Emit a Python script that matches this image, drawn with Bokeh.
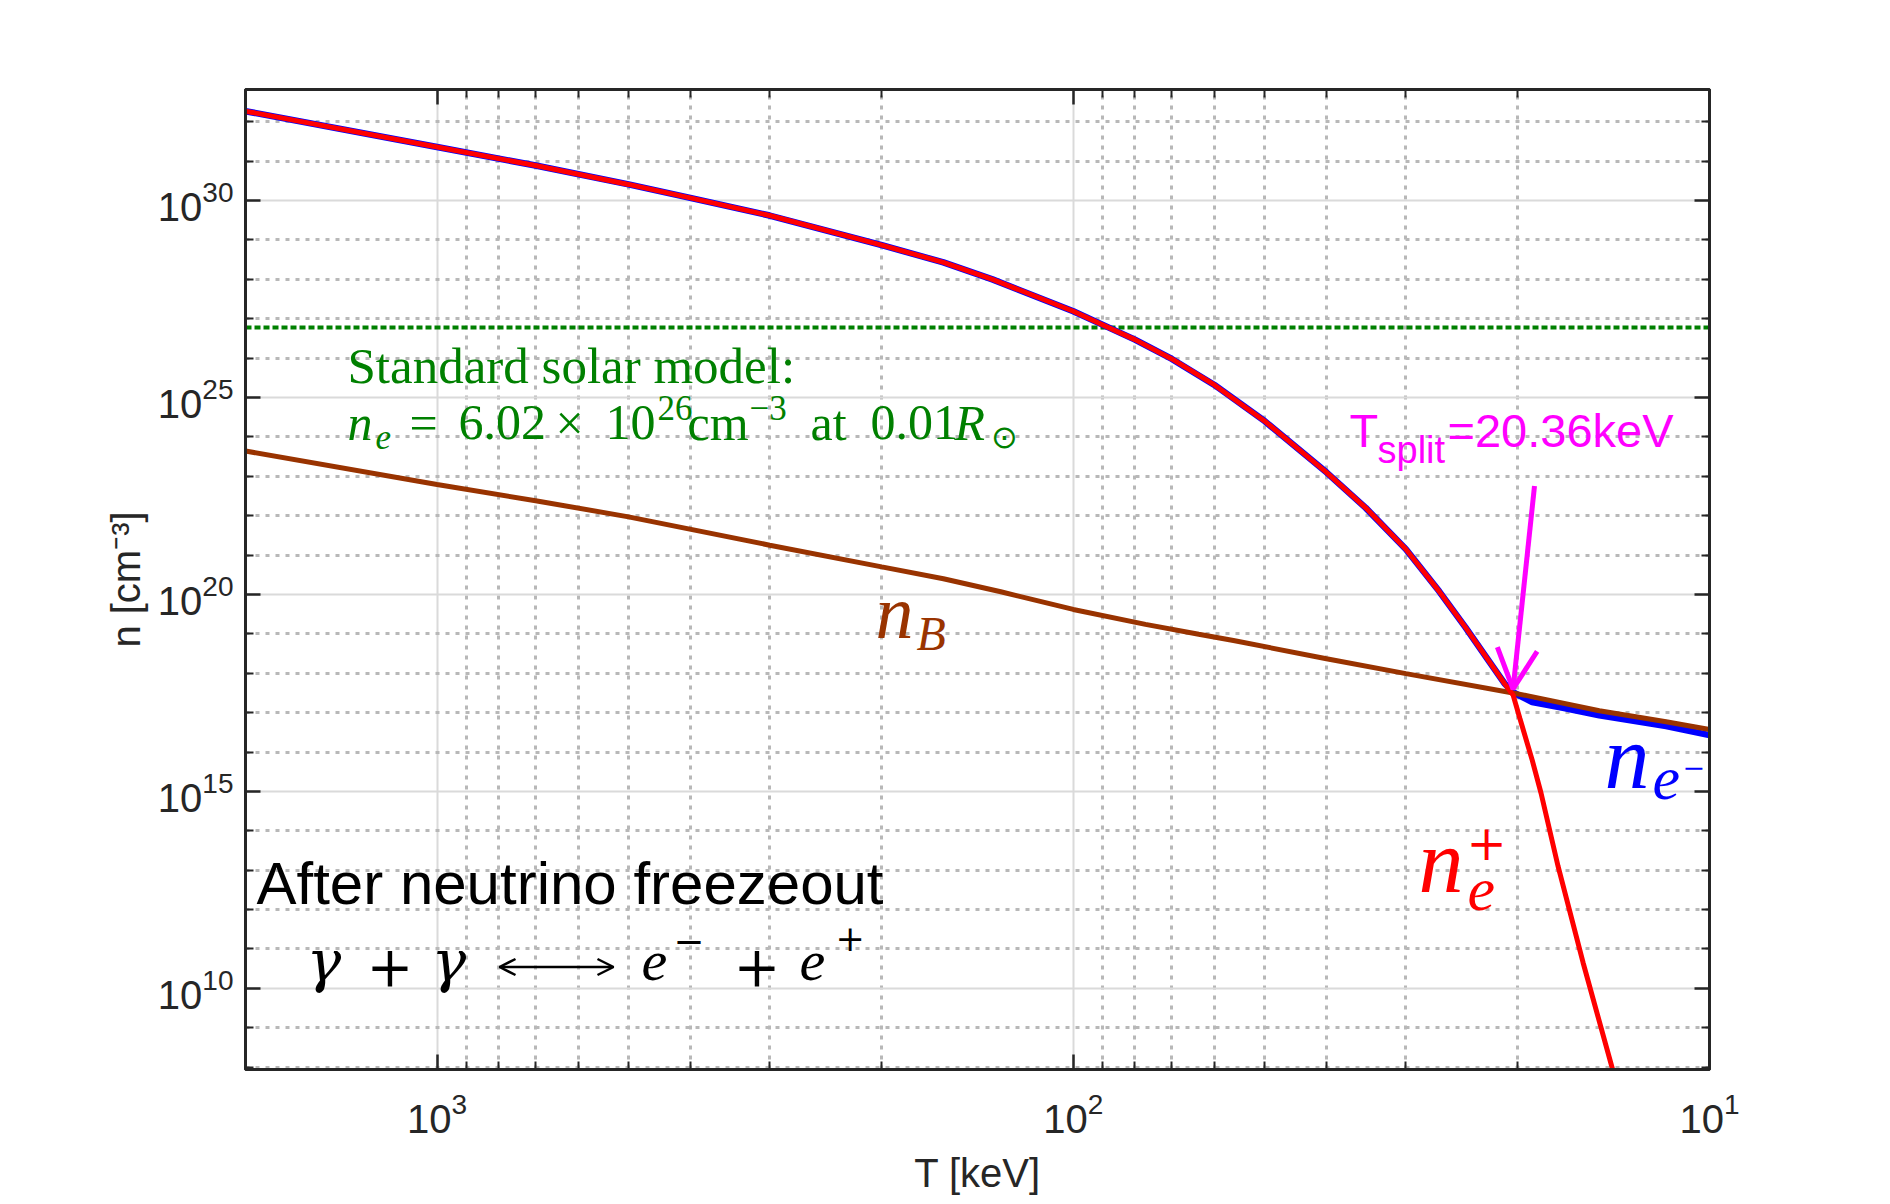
import numpy as np
from bokeh.plotting import figure
from bokeh.models import (Range1d, FixedTicker, LogAxis, LogTickFormatter, Span, Label, Arrow,
                          OpenHead, CustomJSTickFormatter)
from bokeh.embed import file_html
from bokeh.resources import INLINE

# ---------------- data ----------------
# n_e+ and n_e- coincide above the split temperature
T_pair = [2000, 1000, 700, 500, 400, 300, 200, 160, 134, 100, 90, 80, 70, 60, 50, 40, 34.7, 30,
          26.6, 24.2, 22.2, 21.0]
n_pair = [1.86e32, 2.29e31, 7.76e30, 2.57e30, 1.17e30, 4.17e29, 7.41e28, 2.69e28, 1.0e28, 1.55e27,
          7.08e26, 2.95e26, 9.55e25, 2.09e25, 2.51e24, 1.26e23, 1.58e22, 1.41e21,
          1.20e20, 1.48e19, 2.0e18, 5.5e17]
# positron density below the split
T_pos_tail = [20.36, 19.86, 19.0, 18.4, 17.3, 15.8, 14.2, 13.9]
n_pos_tail = [2.82e17, 7.08e16, 6.31e15, 9.12e14, 1.26e13, 4.47e10, 8.71e7, 2.5e7]
# electron density below the split
T_ele_tail = [20.36, 19.9, 19.0, 17.0, 14.9, 11.7, 10]
n_ele_tail = [3.30e17, 2.69e17, 1.86e17, 1.32e17, 8.51e16, 4.57e16, 2.69e16]
# baryon density
T_B = [2000, 1000, 700, 500, 300, 200, 160, 130, 100, 77, 63.5, 56, 40, 30, 20.36, 19.2, 14.9, 11.7, 10]
n_B = [4.37e23, 6.17e22, 2.40e22, 9.33e21, 1.78e21, 5.01e20, 2.51e20, 1.17e20, 4.17e19, 1.74e19,
       9.77e18, 6.76e18, 2.34e18, 9.77e17, 3.16e17, 2.63e17, 1.12e17, 5.89e16, 3.72e16]
n_solar = 6.02e26
T_split = 20.36

x_major = [10, 100, 1000]
x_minor = [m * d for d in (10, 100) for m in range(2, 10)] + [2000]
y_major = [1e10, 1e15, 1e20, 1e25, 1e30]
y_minor = [10.0 ** k for k in range(8, 33) if k % 5]

X0, X1 = 2000, 10
Y0, Y1 = 10 ** 7.94, 10 ** 32.82

# ---------------- figure ----------------
p = figure(x_axis_type="log", y_axis_type="log",
           x_range=Range1d(X0, X1), y_range=Range1d(Y0, Y1),
           frame_width=1464, frame_height=980,
           min_border_left=245, min_border_right=150, min_border_top=89, min_border_bottom=128,
           output_backend="svg", toolbar_location=None,
           background_fill_color="white", border_fill_color="white")
p.outline_line_color = "#262626"
p.outline_line_width = 3

xt = FixedTicker(ticks=x_major, minor_ticks=x_minor)
yt = FixedTicker(ticks=y_major, minor_ticks=y_minor)
p.xaxis[0].ticker = xt
p.yaxis[0].ticker = yt
p.xaxis[0].formatter = LogTickFormatter()
p.yaxis[0].formatter = LogTickFormatter()

AX = "#262626"
for ax in (p.xaxis[0], p.yaxis[0]):
    ax.major_tick_in = 15
    ax.major_tick_out = 0
    ax.minor_tick_in = 8
    ax.minor_tick_out = 0
    ax.major_tick_line_color = AX
    ax.minor_tick_line_color = AX
    ax.major_tick_line_width = 2.5
    ax.minor_tick_line_width = 2
    ax.axis_line_color = AX
    ax.axis_line_width = 3
    ax.major_label_text_font = "Liberation Sans"
    ax.major_label_text_font_size = "40px"
    ax.major_label_text_color = AX
    ax.axis_label_text_font = "Liberation Sans"
    ax.axis_label_text_font_size = "40px"
    ax.axis_label_text_font_style = "normal"
    ax.axis_label_text_color = AX

p.xaxis[0].axis_label = "T [keV]"
p.xaxis[0].major_label_standoff = 22
p.xaxis[0].axis_label_standoff = 15
p.yaxis[0].axis_label = "n [cm⁻³]"
p.yaxis[0].major_label_standoff = 12
p.yaxis[0].axis_label_standoff = 7

blank = CustomJSTickFormatter(code="return ''")
for ticker, side in ((yt, "right"), (xt, "above")):
    ax = LogAxis(ticker=ticker, formatter=blank, major_label_standoff=0,
                 major_tick_in=15, major_tick_out=0, minor_tick_in=8, minor_tick_out=0,
                 major_tick_line_color=AX, minor_tick_line_color=AX,
                 major_tick_line_width=2.5, minor_tick_line_width=2,
                 axis_line_color=AX, axis_line_width=3)
    p.add_layout(ax, side)

for g in (p.xgrid[0], p.ygrid[0]):
    g.grid_line_color = "#dadada"
    g.grid_line_width = 2
    g.minor_grid_line_color = "#b8b8b8"
    g.minor_grid_line_width = 3
    g.minor_grid_line_dash = "4 6"

# solar-model reference density
p.add_layout(Span(location=n_solar, dimension="width", line_color="#008000",
                  line_width=4, line_dash="6 3", level="underlay"))

# curves
p.line(T_pair + T_ele_tail, n_pair + n_ele_tail, line_color="#0000ff", line_width=6.5)
p.line(T_B, n_B, line_color="#993300", line_width=5)
p.line(T_pair + T_pos_tail, n_pair + n_pos_tail, line_color="#ff0000", line_width=5)

# ---------------- annotations ----------------
LX0, LX1 = np.log10(X0), np.log10(X1)
LY0, LY1 = np.log10(Y0), np.log10(Y1)


def at(px, py):
    fx = (px - 246) / 1464.0
    fy = (py - 90.5) / 980.0
    return 10 ** (LX0 + fx * (LX1 - LX0)), 10 ** (LY1 - fy * (LY1 - LY0))


def lab(px, py, text, size, color, font="Liberation Serif", style="normal"):
    x, y = at(px, py - 0.35 * size)
    p.add_layout(Label(x=x, y=y, text=text, text_font=font, text_font_size=f"{size}px",
                       text_color=color, text_font_style=style,
                       text_baseline="alphabetic", text_align="left"))


G = "#008000"
lab(348, 385, "Standard solar model:", 51, G)
lab(348, 441, "n", 50, G, style="italic")
lab(376, 450, "e", 35, G, style="italic")
lab(410, 441, "=", 50, G)
lab(459, 441, "6.02", 50, G)
lab(556, 441, "×", 50, G)
lab(606, 441, "10", 50, G)
lab(658, 421, "26", 35, G)
lab(688, 441, "cm", 50, G)
lab(750, 421, "−3", 35, G)
lab(811, 441, "at", 50, G)
lab(871, 441, "0.01", 50, G)
lab(955, 441, "R", 50, G, style="italic")
lab(991, 449, "⊙", 32, G)

BR = "#993300"
lab(876, 640, "n", 76, BR, style="italic")
lab(917, 651, "B", 48, BR, style="italic")

BL = "#0000ff"
lab(1605, 790, "n", 90, BL, style="italic")
lab(1653, 802, "e", 62, BL, style="italic")
lab(1683, 777, "−", 27, BL, font="DejaVu Serif")

RD = "#ff0000"
lab(1419, 894, "n", 90, RD, style="italic")
lab(1468, 913, "e", 62, RD, style="italic")
lab(1467, 860, "+", 48, RD, font="DejaVu Serif")

MG = "#ff00ff"
lab(1350, 448, "T", 47, MG, font="Liberation Sans")
lab(1378, 464, "split", 38, MG, font="Liberation Sans")
lab(1448, 448, "=20.36keV", 47, MG, font="Liberation Sans")

tx, ty = at(1535, 487)
hx, hy = at(1512, 690)
p.add_layout(Arrow(x_start=tx, y_start=ty, x_end=T_split, y_end=hy,
                   line_color=MG, line_width=5,
                   end=OpenHead(size=40, line_color=MG, line_width=5)))

K = "#000000"
lab(257, 905, "After neutrino freezeout", 60, K, font="Liberation Sans")
lab(307, 982, "γ", 58, K, font="DejaVu Serif", style="italic")
lab(367, 986, "+", 56, K, font="DejaVu Serif")
lab(432, 982, "γ", 58, K, font="DejaVu Serif", style="italic")
ax0, ay0 = at(500, 968)
ax1, ay1 = at(614, 968)
p.add_layout(Arrow(x_start=ax0, y_start=ay0, x_end=ax1, y_end=ay1, line_color=K, line_width=2.5,
                   start=OpenHead(size=16, line_color=K, line_width=2.5),
                   end=OpenHead(size=16, line_color=K, line_width=2.5)))
lab(642, 982, "e", 58, K, style="italic")
lab(674, 954, "−", 37, K, font="DejaVu Serif")
lab(734, 986, "+", 56, K, font="DejaVu Serif")
lab(800, 982, "e", 58, K, style="italic")
lab(836, 951, "+", 35, K, font="DejaVu Serif")

open("out.html", "w").write(file_html(p, INLINE))
